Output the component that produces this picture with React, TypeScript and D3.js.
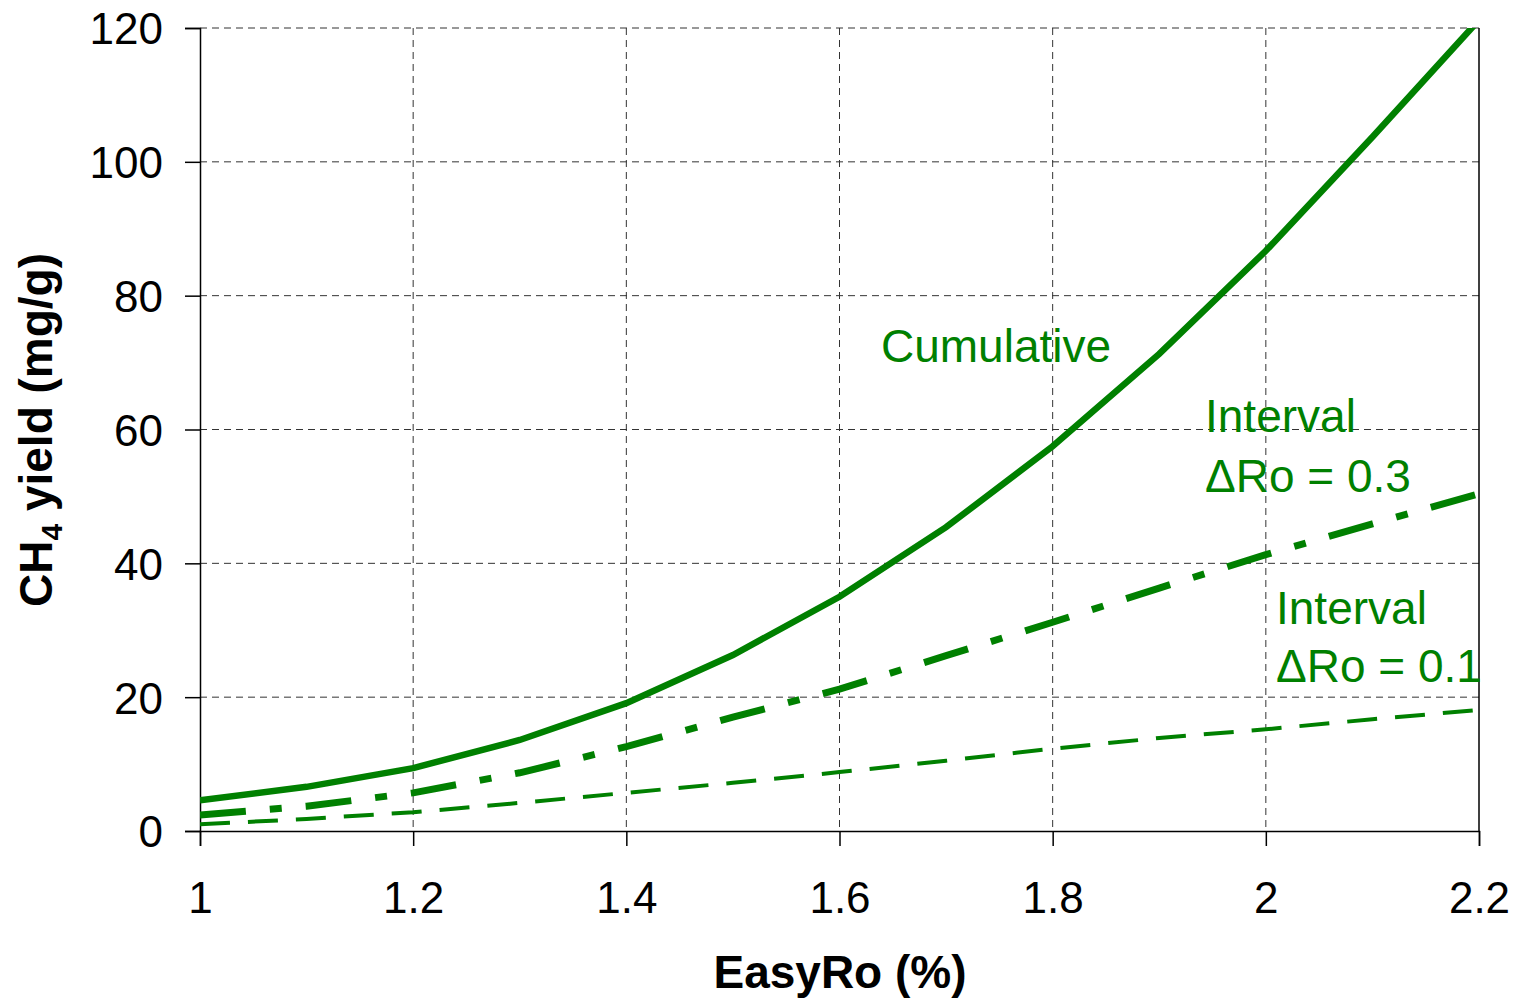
import React, { useEffect, useRef } from 'react';
import * as d3 from 'd3';

const easyRo = [1, 1.1, 1.2, 1.3, 1.4, 1.5, 1.6, 1.7, 1.8, 1.9, 2.0, 2.1, 2.2];
const cumulative = [4.6, 6.6, 9.4, 13.6, 19.1, 26.3, 35.0, 45.4, 57.5, 71.3, 86.7, 103.7, 121.2];
const interval03 = [2.4, 3.7, 5.7, 8.7, 12.6, 17.0, 21.2, 26.2, 31.2, 36.3, 41.3, 45.9, 50.4];
const interval01 = [1.0, 1.8, 2.8, 4.2, 5.7, 7.2, 8.8, 10.5, 12.3, 13.9, 15.2, 16.7, 18.1];
const xTicks = [1, 1.2, 1.4, 1.6, 1.8, 2, 2.2];
const yTicks = [0, 20, 40, 60, 80, 100, 120];

const GREEN = '#008000';
const FONT = '"Liberation Sans", Arial, sans-serif';

export default function App() {
  const svgRef = useRef<SVGSVGElement>(null);

  useEffect(() => {
    if (!svgRef.current) return;
    const svg = d3.select(svgRef.current);
    svg.selectAll('*').remove();

    const left = 200, right = 1479, top = 28, bottom = 831;
    const x = d3.scaleLinear().domain([1, 2.2]).range([left, right]);
    const y = d3.scaleLinear().domain([0, 120]).range([bottom, top]);

    svg.append('defs').append('clipPath').attr('id', 'plot-clip')
      .append('rect').attr('x', left).attr('y', top)
      .attr('width', right - left).attr('height', bottom - top);

    // grid
    const grid = svg.append('g');
    yTicks.filter(t => t > 0).forEach(t => {
      grid.append('line')
        .attr('x1', left).attr('x2', right)
        .attr('y1', y(t)).attr('y2', y(t))
        .attr('stroke', '#333').attr('stroke-width', 1)
        .attr('stroke-dasharray', '7,5');
    });
    xTicks.filter(t => t > 1 && t < 2.2).forEach(t => {
      grid.append('line')
        .attr('x1', x(t)).attr('x2', x(t))
        .attr('y1', top).attr('y2', bottom)
        .attr('stroke', '#333').attr('stroke-width', 1)
        .attr('stroke-dasharray', '7,5');
    });

    // frame
    svg.append('line').attr('x1', right).attr('x2', right).attr('y1', top).attr('y2', bottom)
      .attr('stroke', '#000').attr('stroke-width', 1.5);

    // axes
    const yAxis = svg.append('g').attr('transform', `translate(${left},0)`)
      .call(d3.axisLeft(y).tickValues(yTicks).tickSize(15).tickPadding(22).tickFormat(d3.format('d')));
    const xAxis = svg.append('g').attr('transform', `translate(0,${bottom})`)
      .call(d3.axisBottom(x).tickValues(xTicks).tickSize(15).tickPadding(67).tickFormat(d => String(d)));
    [yAxis, xAxis].forEach(a => {
      a.select('.domain').attr('stroke', '#000').attr('stroke-width', 1.5);
      a.selectAll('.tick line').attr('stroke', '#000').attr('stroke-width', 1.5);
      a.selectAll('.tick text').attr('font-family', FONT).attr('font-size', 44).attr('fill', '#000');
    });
    xAxis.selectAll('.tick text').attr('dy', '0');
    yAxis.selectAll('.tick text').attr('dy', '0.36em');

    // lines
    const series = [
      { values: cumulative, width: 6.5, dash: null },
      { values: interval03, width: 7, dash: '46,24,12,24' },
      { values: interval01, width: 4, dash: '30,18' },
    ];
    const line = d3.line<number>().x((_, i) => x(easyRo[i])).y(d => y(d));
    const plot = svg.append('g').attr('clip-path', 'url(#plot-clip)');
    series.forEach(s => {
      const p = plot.append('path')
        .attr('d', line(s.values))
        .attr('fill', 'none')
        .attr('stroke', GREEN)
        .attr('stroke-width', s.width);
      if (s.dash) p.attr('stroke-dasharray', s.dash);
    });

    // annotations
    const notes = [
      { text: 'Cumulative', x: 881, y: 362 },
      { text: 'Interval', x: 1205, y: 432 },
      { text: '\u0394Ro = 0.3', x: 1205, y: 492 },
      { text: 'Interval', x: 1276, y: 624 },
      { text: '\u0394Ro = 0.1', x: 1276, y: 682 },
    ];
    notes.forEach(n => {
      svg.append('text').attr('x', n.x).attr('y', n.y)
        .attr('font-family', FONT).attr('font-size', 46).attr('fill', GREEN)
        .text(n.text);
    });

    // axis titles
    svg.append('text')
      .attr('x', 840).attr('y', 988)
      .attr('text-anchor', 'middle')
      .attr('font-family', FONT).attr('font-size', 46).attr('font-weight', 'bold')
      .text('EasyRo (%)');

    const yt = svg.append('text')
      .attr('transform', `translate(${52},${430}) rotate(-90)`)
      .attr('text-anchor', 'middle')
      .attr('font-family', FONT).attr('font-size', 46).attr('font-weight', 'bold');
    yt.append('tspan').text('CH');
    yt.append('tspan').attr('font-size', 30).attr('dy', 10).text('4');
    yt.append('tspan').attr('dy', -10).text(' yield (mg/g)');
  }, []);

  return (
    <div>
      <svg ref={svgRef} width={1518} height={1000} style={{ display: 'block', marginTop: -8, marginLeft: -8 }} />
    </div>
  );
}
